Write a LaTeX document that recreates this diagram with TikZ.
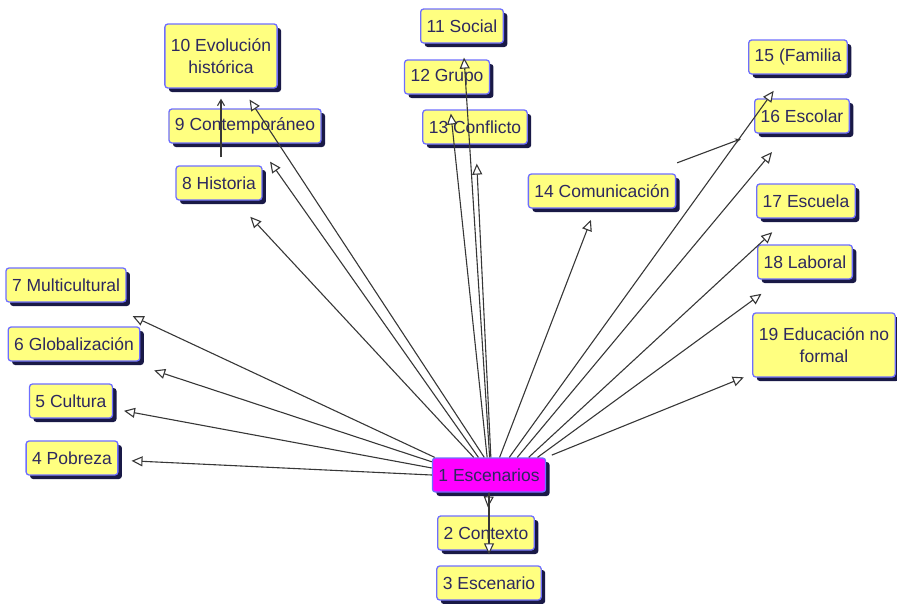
\documentclass[tikz,border=0pt]{standalone}
\usepackage{fontspec}
\setmainfont{Liberation Sans}
\usetikzlibrary{arrows.meta,shadows,positioning}
\definecolor{boxfill}{RGB}{255,255,128}
\definecolor{rootfill}{RGB}{255,0,255}
\definecolor{boxline}{RGB}{110,110,255}
\definecolor{boxshade}{RGB}{25,25,70}
\definecolor{boxtext}{RGB}{45,40,95}
\definecolor{linkgray}{RGB}{55,55,55}
\tikzset{
  concept/.style={draw=boxline, line width=1.3pt, fill=boxfill, rounded corners=3pt, text=boxtext,
    font=\fontsize{17.5}{22}\selectfont, inner xsep=6pt, minimum height=34pt, align=center,
    drop shadow={shadow xshift=4pt, shadow yshift=-4pt, fill=boxshade, opacity=1}},
  root/.style={concept, fill=rootfill},
  link/.style={draw=linkgray, line width=1.1pt, -{Triangle[open, length=11pt, width=10pt, fill=white]}},
  barb/.style={draw=linkgray, line width=1.1pt, -{Straight Barb[length=6pt, width=7pt]}},
  dart/.style={draw=linkgray, line width=1.1pt, -{Stealth[length=6pt, width=5pt]}},
}

\begin{document}
\begin{tikzpicture}[x=1pt, y=-1pt]
	\useasboundingbox (0,0) rectangle (897,603);
	\node[root] (esc) at (489,475) {1 Escenarios};
	\node[concept] (ctx) at (486,533) {2 Contexto};
	\node[concept] (esn) at (489,583) {3 Escenario};
	\node[concept] (pob) at (72,458) {4 Pobreza};
	\node[concept] (cul) at (71,401) {5 Cultura};
	\node[concept] (glo) at (74,344) {6 Globalización};
	\node[concept] (mul) at (66,285) {7 Multicultural};
	\node[concept] (his) at (219,183) {8 Historia};
	\node[concept] (con) at (245,126) {9 Contemporáneo};
	\node[concept, minimum height=64pt] (evo) at (221,56) {10 Evolución\\histórica};
	\node[concept] (soc) at (462,26) {11 Social};
	\node[concept] (gru) at (447,77) {12 Grupo};
	\node[concept] (cfl) at (475,127) {13 Conflicto};
	\node[concept] (com) at (602,191) {14 Comunicación};
	\node[concept] (fam) at (798,57) {15 (Familia};
	\node[concept] (esl) at (802,116) {16 Escolar};
	\node[concept] (esu) at (806,201) {17 Escuela};
	\node[concept] (lab) at (805,262) {18 Laboral};
	\node[concept, minimum height=64pt] (enf) at (824,345) {19 Educación no\\formal};

	\draw[link, shorten >=8pt] (esc.south) -- (ctx);
	\draw[link, shorten >=11pt] (esc.south) -- (esn);
	\draw[link, shorten >=13pt] (esc.west) -- (pob);
	\draw[link, shorten >=11pt] (esc.173) -- (cul);
	\draw[link, shorten >=28pt] (esc.167) -- (glo);
	\draw[link, shorten >=32pt] (esc.162) -- (mul);
	\draw[link, shorten >=22pt] (esc.131) -- (his);
	\draw[link, shorten >=22pt] (esc.121) -- (con);
	\draw[link, shorten >=13pt] (esc.105) -- (evo);
	\draw[link, shorten >=14pt] (esc.88) -- (soc);
	\draw[link, shorten >=19pt] (esc.96) -- (gru);
	\draw[link, shorten >=19pt] (esc.84) -- (cfl);
	\draw[link, shorten >=12pt] (esc.59) -- (com);
	\draw[link, shorten >=20pt] (esc.41) -- (fam);
	\draw[link, shorten >=24pt] (esc.32.5) -- (esl);
	\draw[link, shorten >=20pt] (esc.24) -- (esu);
	\draw[link, shorten >=24pt] (esc.20) -- (lab);
	\draw[link, shorten <=6pt, shorten >=9pt] (esc.north east) -- (enf);
	\draw[barb, shorten <=8pt, shorten >=10pt] (his.north -| evo) -- (evo);
	\draw[dart, shorten <=30pt, shorten >=15pt] (com) -- (esl);
\end{tikzpicture}
\end{document}
